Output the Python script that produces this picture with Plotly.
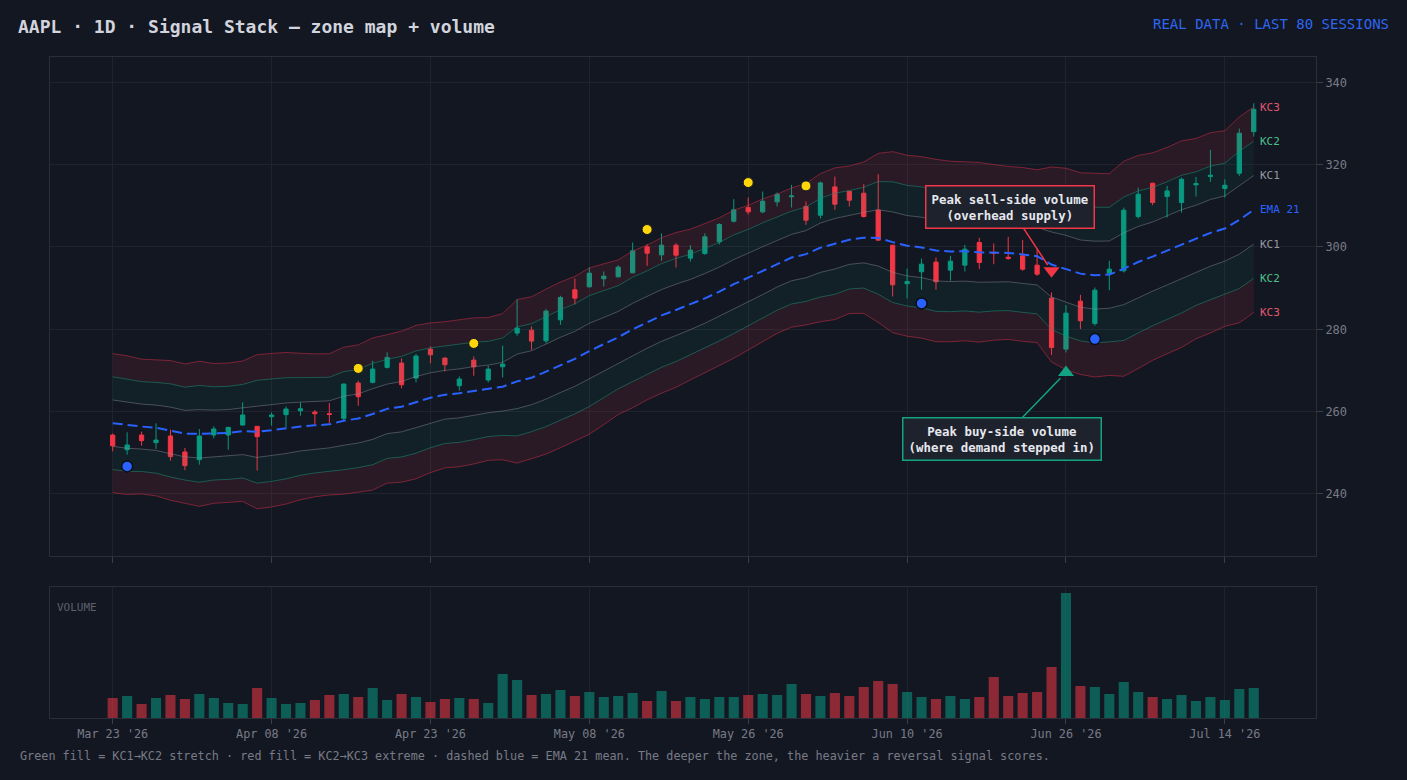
import pandas as pd
import plotly.graph_objects as go

# ---------------- data ----------------
HOLIDAYS = ["2026-04-03", "2026-05-25", "2026-06-19", "2026-07-03"]
sessions = [d for d in pd.bdate_range("2026-03-23", periods=90)
            if d.strftime("%Y-%m-%d") not in HOLIDAYS][:80]
session_labels = [d.strftime("%b %d '%y") for d in sessions]
tick_idx = [0, 11, 22, 33, 44, 55, 66, 77]

open_ = [254.30, 250.76, 254.32, 252.46, 254.08, 250.20, 248.33, 254.32, 254.32, 256.75,
         256.43, 258.77, 259.26, 260.23, 259.90, 259.50, 258.37, 266.94, 267.11, 270.75,
         271.80, 268.15, 275.19, 273.01, 266.29, 272.52, 267.67, 270.90, 279.08, 279.80,
         277.21, 282.31, 289.60, 290.32, 292.26, 292.75, 293.72, 300.03, 298.09, 300.43,
         297.29, 298.42, 301.25, 306.27, 309.58, 308.53, 310.96, 312.20, 309.83, 307.72,
         314.60, 313.55, 313.06, 308.94, 300.44, 291.06, 293.97, 296.32, 294.37, 295.59,
         301.09, 298.70, 297.52, 297.85, 295.58, 287.57, 275.19, 286.84, 281.42, 293.64,
         294.21, 307.39, 315.48, 312.25, 310.79, 315.08, 317.10, 314.19, 317.91, 328.02]
high = [254.70, 254.97, 255.13, 257.15, 255.62, 251.17, 255.78, 256.43, 256.30, 262.25,
        256.50, 259.82, 261.28, 262.25, 260.39, 262.09, 266.80, 267.51, 272.36, 274.39,
        272.93, 273.98, 275.84, 273.17, 268.56, 273.41, 271.15, 276.00, 287.33, 280.70,
        284.90, 288.14, 292.34, 295.01, 294.04, 295.58, 301.08, 300.68, 303.27, 300.92,
        300.44, 303.35, 305.78, 311.61, 312.01, 313.47, 313.23, 315.09, 311.04, 315.90,
        317.11, 313.60, 315.25, 317.67, 300.50, 294.78, 297.21, 297.45, 297.85, 300.52,
        302.22, 300.84, 302.46, 301.73, 299.47, 288.95, 285.87, 288.38, 290.16, 296.63,
        309.58, 314.43, 315.64, 314.84, 316.86, 317.02, 323.58, 316.46, 328.75, 334.90]
low = [250.35, 249.55, 251.73, 250.92, 248.09, 245.75, 247.12, 253.51, 250.76, 256.59,
       245.66, 256.59, 256.18, 259.01, 256.83, 257.23, 257.80, 261.44, 266.86, 270.50,
       265.65, 267.10, 271.71, 269.77, 265.08, 268.72, 267.10, 268.32, 278.43, 275.03,
       276.57, 281.10, 286.03, 290.16, 290.40, 292.60, 293.64, 295.42, 296.63, 295.01,
       296.48, 298.10, 300.60, 305.94, 307.89, 308.21, 309.83, 309.58, 305.38, 306.91,
       309.02, 309.83, 307.16, 301.50, 287.98, 287.50, 289.60, 289.60, 291.78, 294.05,
       294.62, 295.82, 296.88, 294.21, 292.99, 273.82, 274.38, 280.05, 280.86, 289.51,
       293.80, 306.91, 310.14, 307.15, 308.36, 312.25, 315.81, 312.01, 317.26, 326.81]
close = [251.70, 251.90, 252.95, 253.10, 249.06, 246.88, 254.08, 255.78, 256.18, 259.18,
         253.92, 259.18, 260.63, 260.71, 259.50, 259.30, 266.70, 263.63, 270.34, 273.17,
         266.54, 273.50, 273.82, 271.39, 267.91, 270.90, 270.34, 271.55, 280.29, 277.13,
         284.42, 287.73, 287.57, 293.64, 292.91, 295.10, 299.06, 298.49, 300.43, 298.01,
         299.23, 302.46, 305.46, 309.02, 308.53, 311.12, 312.82, 312.40, 306.51, 315.57,
         310.39, 311.36, 307.40, 301.66, 290.81, 291.62, 295.83, 291.54, 296.56, 299.47,
         296.23, 298.50, 297.20, 294.61, 293.40, 275.60, 283.93, 282.07, 289.51, 294.61,
         308.93, 312.81, 310.79, 313.62, 316.46, 315.40, 317.43, 315.00, 327.62, 333.45]
volume_m = [40, 44, 28, 40, 46, 38, 48, 40, 30, 28,
            60, 40, 28, 30, 36, 46, 48, 42, 60, 36,
            48, 42, 32, 38, 40, 38, 30, 88, 76, 46,
            48, 56, 44, 52, 42, 44, 50, 34, 54, 34,
            42, 38, 42, 42, 46, 48, 46, 68, 48, 44,
            50, 44, 62, 74, 68, 52, 42, 38, 44, 38,
            42, 82, 44, 50, 52, 102, 250, 64, 62, 48,
            72, 52, 42, 38, 46, 34, 42, 36, 58, 60]

# indicator seeds (values of EMA 21 and ATR on the first visible session)
EMA_SEED = 257.2
ATR_SEED = 5.63

# signal markers
stretch_hi_idx = [17, 25, 37, 44, 48]
stretch_hi_val = [270.5, 276.57, 304.24, 315.65, 314.84]
stretch_lo_idx = [1, 56, 68]
stretch_lo_val = [246.7, 286.28, 277.62]
peak_sell_idx, peak_sell_val = 65, 294.2
peak_buy_idx, peak_buy_val = 66, 269.5

# ---------------- indicators ----------------
idx = list(range(len(close)))
ema = [EMA_SEED]
for c in close[1:]:
    ema.append(ema[-1] + (c - ema[-1]) * 2 / 22)
atr = [ATR_SEED]
for i in range(1, len(close)):
    tr = max(high[i] - low[i], abs(high[i] - close[i - 1]), abs(low[i] - close[i - 1]))
    atr.append(atr[-1] + (tr - atr[-1]) / 14)

def band(k):
    return [e + k * a for e, a in zip(ema, atr)]

kc3u, kc2u, kc1u = band(3), band(2), band(1)
kc1l, kc2l, kc3l = band(-1), band(-2), band(-3)

# ---------------- style ----------------
BG = "#131722"
GREEN = "#089981"
RED = "#f23645"
BLUE = "#2962ff"
GRID = "#1f232e"
AXLINE = "#2a2e39"
TXT = "#787b86"
MONO = "DejaVu Sans Mono"
RED_FILL = "rgba(242,54,69,0.10)"
GREEN_FILL = "rgba(8,153,129,0.07)"
KC3_LINE = "rgba(200,45,70,0.55)"
KC2_LINE = "rgba(30,140,115,0.55)"
KC1_LINE = "rgba(140,145,155,0.45)"

fig = go.Figure()

def line(y, color, fill=None, fillcolor=None):
    fig.add_trace(go.Scatter(x=idx, y=y, mode="lines", line=dict(color=color, width=1),
                             fill=fill, fillcolor=fillcolor, hoverinfo="skip",
                             showlegend=False, xaxis="x", yaxis="y"))

line(kc3u, KC3_LINE)
line(kc2u, KC2_LINE, "tonexty", RED_FILL)
line(kc1u, KC1_LINE, "tonexty", GREEN_FILL)
line(kc1l, KC1_LINE)
line(kc2l, KC2_LINE, "tonexty", GREEN_FILL)
line(kc3l, KC3_LINE, "tonexty", RED_FILL)

fig.add_trace(go.Scatter(x=idx, y=ema, mode="lines", line=dict(color=BLUE, width=2, dash="10px,5px"),
                         hoverinfo="skip", showlegend=False, xaxis="x", yaxis="y"))

fig.add_trace(go.Candlestick(
    x=idx, open=open_, high=high, low=low, close=close,
    increasing=dict(line=dict(color=GREEN, width=1), fillcolor=GREEN),
    decreasing=dict(line=dict(color=RED, width=1), fillcolor=RED),
    whiskerwidth=0, showlegend=False, xaxis="x", yaxis="y"))

fig.add_trace(go.Scatter(x=stretch_hi_idx, y=stretch_hi_val, mode="markers",
                         marker=dict(color="#ffd60a", size=10, line=dict(color=BG, width=1)),
                         showlegend=False, xaxis="x", yaxis="y"))
fig.add_trace(go.Scatter(x=stretch_lo_idx, y=stretch_lo_val, mode="markers",
                         marker=dict(color=BLUE, size=11, line=dict(color="#0b0e14", width=1.5)),
                         showlegend=False, xaxis="x", yaxis="y"))
fig.add_trace(go.Scatter(x=[peak_sell_idx], y=[peak_sell_val], mode="markers",
                         marker=dict(symbol="triangle-down", color=RED, size=14, line=dict(width=0)),
                         showlegend=False, xaxis="x", yaxis="y"))
fig.add_trace(go.Scatter(x=[peak_buy_idx], y=[peak_buy_val], mode="markers",
                         marker=dict(symbol="triangle-up", color="#12a383", size=14, line=dict(width=0)),
                         showlegend=False, xaxis="x", yaxis="y"))

vol_colors = ["rgba(8,153,129,0.55)" if c >= o else "rgba(242,54,69,0.55)"
              for o, c in zip(open_, close)]
fig.add_trace(go.Bar(x=idx, y=volume_m, marker=dict(color=vol_colors, line=dict(width=0)),
                     width=0.7, showlegend=False, xaxis="x2", yaxis="y2"))

# ---------------- layout ----------------
XR = [-4.34, 83.31]
tick_text = [session_labels[i] for i in tick_idx]
axis_common = dict(showline=True, linecolor=AXLINE, linewidth=1, mirror=True, zeroline=False)

fig.update_layout(
    width=1407, height=780,
    paper_bgcolor=BG, plot_bgcolor=BG,
    margin=dict(l=50, r=91, t=57, b=62),
    boxgap=0.58,
    showlegend=False,
    bargap=0.3,
    font=dict(family=MONO, color=TXT, size=12),
    title=dict(text="AAPL · 1D · Signal Stack — zone map + volume",
               font=dict(family=MONO, size=18, color="#d1d4dc", weight="bold"),
               x=18 / 1407, xref="container", xanchor="left",
               y=1 - 27 / 780, yref="container", yanchor="middle"),
    xaxis=dict(domain=[0, 1], anchor="y", range=XR, tickvals=tick_idx, ticktext=tick_text,
               showticklabels=False, ticks="outside", ticklen=6, tickcolor="#3a3e4a",
               showgrid=True, gridcolor=GRID, rangeslider=dict(visible=False), **axis_common),
    yaxis=dict(domain=[162 / 661, 1], anchor="x", side="right", range=[224.93, 346.15],
               tickvals=[240, 260, 280, 300, 320, 340], ticks="outside", ticklen=6,
               tickcolor="#3a3e4a", showgrid=True, gridcolor=GRID,
               tickfont=dict(family=MONO, size=12, color=TXT), **axis_common),
    xaxis2=dict(domain=[0, 1], anchor="y2", range=XR, tickvals=tick_idx, ticktext=tick_text,
                ticks="outside", ticklen=5, tickcolor="#3a3e4a", showgrid=True, gridcolor=GRID,
                tickfont=dict(family=MONO, size=11.8, color=TXT), **axis_common),
    yaxis2=dict(domain=[0, 131 / 661], anchor="x2", range=[0, 262], showticklabels=False,
                ticks="", showgrid=False, **axis_common),
)

ann = []
ann.append(dict(xref="paper", yref="paper", x=(1392 - 50) / 1267, y=(718 - 24) / 661,
                xanchor="right", yanchor="middle", showarrow=False,
                text="REAL DATA · LAST 80 SESSIONS",
                font=dict(family=MONO, size=14, color="#2f66f0")))
ann.append(dict(xref="paper", yref="paper", x=(18 - 50) / 1267, y=(718 - 756) / 661,
                xanchor="left", yanchor="middle", showarrow=False,
                text="Green fill = KC1→KC2 stretch · red fill = KC2→KC3 extreme · dashed blue = EMA 21 mean. "
                     "The deeper the zone, the heavier a reversal signal scores.",
                font=dict(family=MONO, size=11.8, color=TXT)))
ann.append(dict(xref="paper", yref="paper", x=(55 - 50) / 1267, y=(718 - 607) / 661,
                xanchor="left", yanchor="middle", showarrow=False, text="VOLUME",
                font=dict(family=MONO, size=11, color="#5d606b")))

last = len(close) - 1
for val, label, col in [(kc3u[last], "KC3", "#e0576f"), (kc2u[last], "KC2", "#4cc08b"),
                        (kc1u[last], "KC1", "#9598a1"), (ema[last], "EMA 21", BLUE),
                        (kc1l[last], "KC1", "#9598a1"), (kc2l[last], "KC2", "#4cc08b"),
                        (kc3l[last], "KC3", "#e0576f")]:
    ann.append(dict(xref="x", yref="y", x=last, y=val, xshift=4, xanchor="left", yanchor="middle",
                    showarrow=False, text=label, font=dict(family=MONO, size=11, color=col)))

ann.append(dict(xref="x", yref="y", x=peak_sell_idx, y=peak_sell_val, ax=-42, ay=-64,
                text="<b>Peak sell-side volume</b><br><b>(overhead supply)</b>",
                showarrow=True, arrowhead=0, arrowwidth=1.5, arrowcolor=RED, standoff=7,
                bgcolor="#1e222d", bordercolor=RED, borderwidth=1.5, borderpad=5,
                font=dict(family=MONO, size=12.4, color="#e6e8ee")))
ann.append(dict(xref="x", yref="y", x=peak_buy_idx, y=peak_buy_val, ax=-64, ay=66,
                text="<b>Peak buy-side volume</b><br><b>(where demand stepped in)</b>",
                showarrow=True, arrowhead=0, arrowwidth=1.5, arrowcolor="#12a383", standoff=8,
                bgcolor="#1e222d", bordercolor="#12a383", borderwidth=1.5, borderpad=5,
                font=dict(family=MONO, size=12.4, color="#e6e8ee")))
fig.update_layout(annotations=ann)

fig.write_html("out.html")
